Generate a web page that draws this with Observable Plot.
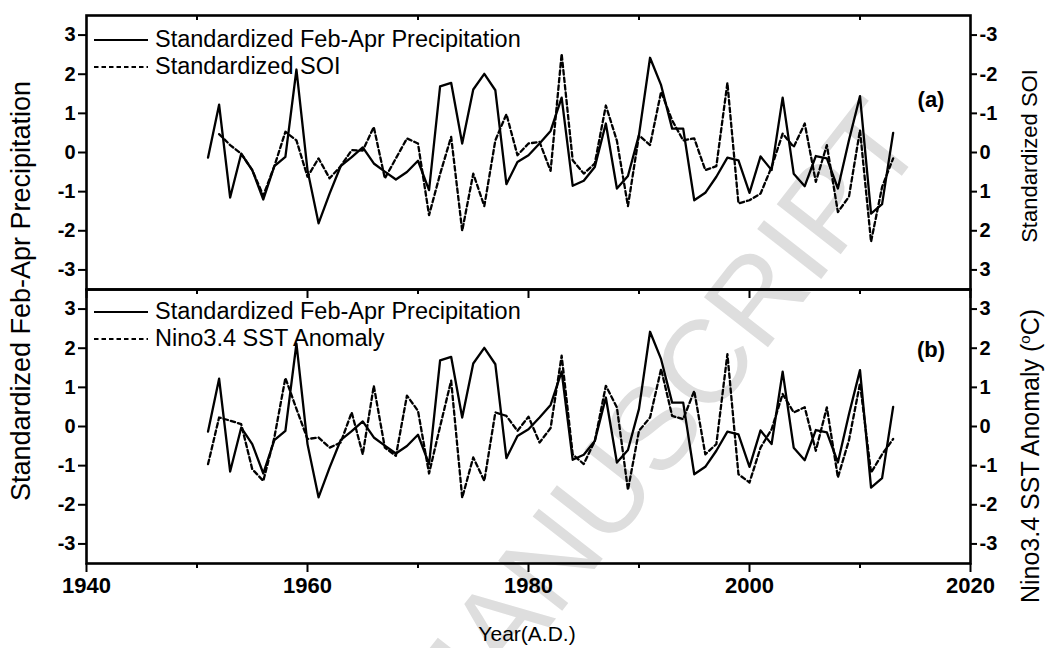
<!DOCTYPE html>
<html><head><meta charset="utf-8">
<script src="https://cdn.jsdelivr.net/npm/d3@7"></script>
<script src="https://cdn.jsdelivr.net/npm/@observablehq/plot@0.6"></script>
<style>
body{margin:0;background:#fff;}
#wrap{position:relative;width:1051px;height:648px;font-family:"Liberation Sans",Arial,sans-serif;overflow:hidden;background:#fff}
#wrap svg{position:absolute;left:0;overflow:visible}
.t{position:absolute;white-space:nowrap;color:#000;font-size:21px;line-height:1}
.wm{position:absolute;white-space:nowrap;color:#dedede;font-size:118px;line-height:1;transform-origin:center center}
.leg{position:absolute;display:flex;align-items:center;font-size:23.5px;white-space:nowrap;line-height:1}
.leg svg{position:static !important;margin-right:7px}
svg [aria-label$="tick label"]{font-weight:bold}
</style></head>
<body><div id="wrap"></div>
<script>
const years = [1951,1952,1953,1954,1955,1956,1957,1958,1959,1960,1961,1962,1963,1964,1965,1966,1967,1968,1969,1970,
1971,1972,1973,1974,1975,1976,1977,1978,1979,1980,1981,1982,1983,1984,1985,1986,1987,1988,1989,1990,
1991,1992,1993,1994,1995,1996,1997,1998,1999,2000,2001,2002,2003,2004,2005,2006,2007,2008,2009,2010,2011,2012,2013];
const precip = [-0.13,1.22,-1.15,-0.03,-0.45,-1.2,-0.35,-0.11,2.12,-0.45,
-1.81,-1.05,-0.35,-0.12,0.13,-0.28,-0.49,-0.69,-0.5,-0.21,
-0.96,1.69,1.78,0.23,1.61,2.01,1.59,-0.81,-0.24,-0.07,
0.23,0.55,1.4,-0.85,-0.72,-0.37,0.74,-0.92,-0.6,0.45,
2.42,1.72,0.61,0.61,-1.22,-1.03,-0.62,-0.13,-0.2,-1.03,
-0.1,-0.45,1.4,-0.54,-0.86,-0.09,-0.15,-0.92,0.31,1.44,-1.56,-1.32,0.5];
const soi = [null,-0.47,-0.19,0.03,0.45,1.1,0.35,-0.53,-0.31,0.62,
0.15,0.66,0.35,-0.06,-0.05,-0.65,0.66,0.15,-0.36,-0.23,
1.6,0.55,-0.4,2.0,0.54,1.37,-0.31,-0.98,0.07,-0.23,
-0.27,0.47,-2.52,0.2,0.54,0.28,-1.2,-0.3,1.37,-0.44,
-0.19,-1.55,-0.82,-0.31,-0.36,0.45,0.35,-1.78,1.3,1.22,
1.05,0.37,-0.48,-0.14,-0.74,0.75,-0.19,1.52,1.13,-0.57,2.28,0.88,0.15];
const nino = [-0.96,0.23,0.15,0.06,-1.09,-1.39,-0.28,1.24,0.45,-0.32,
-0.28,-0.54,-0.41,0.36,-0.71,1.04,-0.54,-0.75,0.79,0.4,
-1.2,0.0,1.17,-1.82,-0.79,-1.39,0.36,0.27,-0.11,0.25,
-0.41,-0.04,1.81,-0.71,-0.96,-0.37,1.04,0.49,-1.62,-0.11,
0.23,1.47,0.27,0.19,0.91,-0.71,-0.45,1.85,-1.22,-1.43,
-0.54,-0.07,0.83,0.36,0.49,-0.62,0.49,-1.3,-0.35,1.1,-1.18,-0.71,-0.32];
const yTicks = [-3,-2,-1,0,1,2,3];
const xMajor = [1940,1960,1980,2000,2020];
const xMinor = [1950,1970,1990,2010];
const legendA = ["Standardized Feb-Apr Precipitation","Standardized SOI"];
const legendB = ["Standardized Feb-Apr Precipitation","Nino3.4 SST Anomaly"];

const rows = years.map((y,i)=>({year:y, precip:precip[i], soi:soi[i], nino:nino[i]}));
const FONT = '"Liberation Sans", Arial, sans-serif';
const fmt = d => String(d);

function panel(opts){
  const {height, marginTop, marginBottom, dashed, rightFmt, xLabels} = opts;
  return Plot.plot({
    width:1051, height, marginLeft:86, marginRight:81, marginTop, marginBottom,
    style:{background:"transparent", fontFamily:FONT, fontSize:"20px", overflow:"visible", color:"#000"},
    x:{domain:[1940,2020]},
    y:{domain:[-3.5,3.5]},
    marks:[
      Plot.axisY(yTicks,{anchor:"left", tickSize:8, tickPadding:3, label:null, tickFormat:fmt, strokeWidth:2}),
      Plot.axisY(yTicks,{anchor:"right", tickSize:6, tickPadding:3, label:null, tickFormat:rightFmt, strokeWidth:2}),
      Plot.axisX(xMajor,{anchor:"bottom", tickSize:9, tickPadding:5, label:null, strokeWidth:2, fontSize:"22px",
        tickFormat: xLabels ? fmt : () => ""}),
      Plot.axisX(xMinor,{anchor:"bottom", tickSize:5, label:null, strokeWidth:2, tickFormat:()=>""}),
      Plot.axisX(xMinor,{anchor:"top", tickSize:-4, label:null, strokeWidth:2, tickFormat:()=>""}),
      Plot.line(rows,{x:"year", y:"precip", stroke:"#000", strokeWidth:2.3}),
      Plot.line(rows,{x:"year", y:dashed, stroke:"#000", strokeWidth:2.3, strokeDasharray:"4.5,3"}),
      Plot.frame({stroke:"#000", strokeWidth:2.6})
    ]
  });
}

const wrap = document.getElementById("wrap");
function addText(cls, txt, css){ const d=document.createElement("div"); d.className=cls; d.textContent=txt; Object.assign(d.style,css); wrap.appendChild(d); return d; }

addText("wm","MANUSCRIPT",{left:"655px", top:"425px", transform:"translate(-50%,-50%) rotate(-52deg)"});

const svgTop = panel({height:289, marginTop:15, marginBottom:0,
  dashed: d => d.soi == null ? NaN : -d.soi,
  rightFmt: d => d === 0 ? "0" : String(-d), xLabels:false});
svgTop.style.top = "0px";
wrap.appendChild(svgTop);

const svgBot = panel({height:359, marginTop:0, marginBottom:85,
  dashed: "nino", rightFmt: fmt, xLabels:true});
svgBot.style.top = "289px";
wrap.appendChild(svgBot);

function legend(items, topPx){
  items.forEach((txt,i)=>{
    const d=document.createElement("div"); d.className="leg";
    d.style.left="94px"; d.style.top=(topPx+i*27-12)+"px";
    d.innerHTML = `<svg width="54" height="6"><line x1="0" x2="54" y1="3" y2="3" stroke="#000" stroke-width="2" ${i? 'stroke-dasharray="4.5,3"':''}/></svg><span>${txt}</span>`;
    wrap.appendChild(d);
  });
}
legend(legendA, 40);
legend(legendB, 312);

addText("t","(a)",{left:"931px", top:"100px", fontWeight:"bold", fontSize:"22px", transform:"translate(-50%,-50%)"});
addText("t","(b)",{left:"931px", top:"350px", fontWeight:"bold", fontSize:"22px", transform:"translate(-50%,-50%)"});
addText("t","Standardized Feb-Apr Precipitation",{left:"21px", top:"291px", fontSize:"27px", transform:"translate(-50%,-50%) rotate(-90deg)"});
addText("t","Standardized SOI",{left:"1030px", top:"156px", fontSize:"22px", transform:"translate(-50%,-50%) rotate(-90deg)"});
const nt = addText("t","",{left:"1030px", top:"456px", fontSize:"25px", transform:"translate(-50%,-50%) rotate(-90deg)"});
nt.innerHTML = "Nino3.4 SST Anomaly (<sup style='font-size:15px'>o</sup>C)";
addText("t","Year(A.D.)",{left:"527px", top:"633px", transform:"translate(-50%,-50%)"});
</script></body></html>
